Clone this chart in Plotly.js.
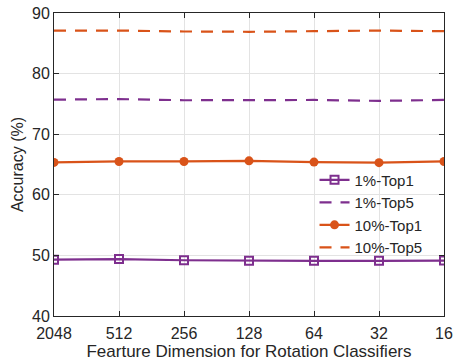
<!DOCTYPE html>
<html>
<head>
<meta charset="utf-8">
<script src="https://cdn.plot.ly/plotly-3.0.1.min.js"></script>
<style>html,body{margin:0;padding:0;background:#fff;}#chart{width:455px;height:362px;}</style>
</head>
<body>
<div id="chart"></div>
<script>
var categories = ['2048', '512', '256', '128', '64', '32', '16'];
var top1_1pct = [49.3, 49.4, 49.2, 49.1, 49.1, 49.1, 49.15];
var top5_1pct = [75.7, 75.8, 75.6, 75.6, 75.65, 75.5, 75.65];
var top1_10pct = [65.35, 65.5, 65.5, 65.6, 65.4, 65.3, 65.5];
var top5_10pct = [87.1, 87.1, 86.95, 86.9, 87.0, 87.1, 87.0];
var yTicks = [40, 50, 60, 70, 80, 90];

var purple = '#7E2F8E', orange = '#D95319';
var traces = [
  {x: categories, y: top1_1pct, name: '1%-Top1', mode: 'lines+markers',
   line: {color: purple, width: 2.2},
   marker: {symbol: 'square-open', size: 8, color: purple, line: {width: 2, color: purple}}},
  {x: categories, y: top5_1pct, name: '1%-Top5', mode: 'lines',
   line: {color: purple, width: 2.2, dash: '12px,9px'}},
  {x: categories, y: top1_10pct, name: '10%-Top1', mode: 'lines+markers',
   line: {color: orange, width: 2.2},
   marker: {symbol: 'circle', size: 9, color: orange}},
  {x: categories, y: top5_10pct, name: '10%-Top5', mode: 'lines',
   line: {color: orange, width: 2.2, dash: '12px,9px'}}
];
var fam = 'Liberation Sans, Arial, sans-serif';
var font = {family: fam, size: 16, color: '#262626'};
var layout = {
  width: 455, height: 362,
  margin: {l: 54, r: 11, t: 13, b: 46},
  paper_bgcolor: '#fff', plot_bgcolor: '#fff',
  font: font,
  showlegend: true,
  legend: {x: 0.668, y: 0.503, xanchor: 'left', yanchor: 'top', bgcolor: 'rgba(0,0,0,0)',
           font: {family: fam, size: 15, color: '#262626'}, tracegroupgap: 0, itemwidth: 30},
  xaxis: {type: 'category', range: [0, 6], showgrid: true, gridcolor: '#e3e3e3', gridwidth: 1,
          showline: true, linecolor: '#262626', linewidth: 1, mirror: 'ticks', automargin: false,
          ticks: 'inside', ticklen: 5, tickcolor: '#262626', zeroline: false, ticklabelstandoff: 3,
          tickfont: {family: fam, size: 16, color: '#262626'},
          title: {text: 'Fearture Dimension for Rotation Classifiers', standoff: 2,
                  font: {family: fam, size: 17, color: '#262626'}}},
  yaxis: {range: [40, 90], tickvals: yTicks, showgrid: true, gridcolor: '#e3e3e3', gridwidth: 1,
          showline: true, linecolor: '#262626', linewidth: 1, mirror: 'ticks', automargin: false,
          ticks: 'inside', ticklen: 5, tickcolor: '#262626', zeroline: false,
          tickfont: {family: fam, size: 16, color: '#262626'},
          title: {text: 'Accuracy (%)', standoff: 4,
                  font: {family: fam, size: 16, color: '#262626'}}}
};
Plotly.newPlot('chart', traces, layout, {staticPlot: true, displayModeBar: false});
</script>
</body>
</html>
